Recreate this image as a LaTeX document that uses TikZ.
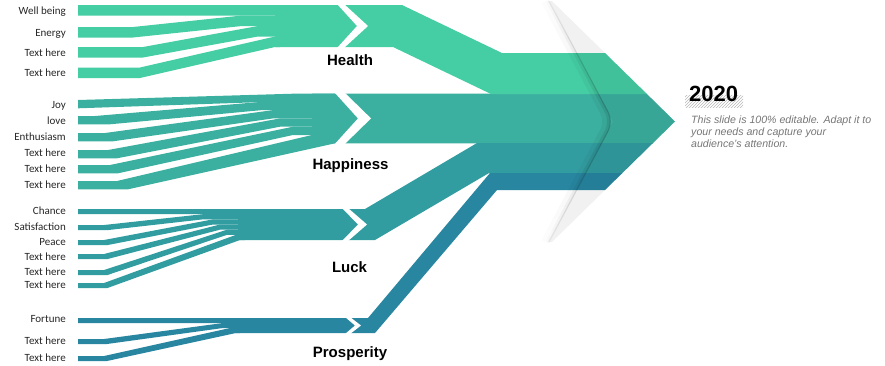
\documentclass[tikz,border=0pt]{standalone}
\usepackage{fontspec}
\setmainfont{Liberation Sans}
\newfontfamily\labelfont{Carlito}
\usetikzlibrary{patterns,fadings}
\definecolor{health}{RGB}{69,205,163}
\definecolor{happy}{RGB}{60,176,160}
\definecolor{luck}{RGB}{50,157,160}
\definecolor{prosp}{RGB}{40,134,160}
\definecolor{labelgray}{RGB}{38,38,38}
\definecolor{descgray}{RGB}{118,118,118}
\tikzfading[name=midfade, top color=transparent!85, bottom color=transparent!85, middle color=transparent!0]
% #1 colour, #2 left top y, #3 height, #4 top slant start x, #5 top slant end x,
% #6 slot top y, #7 bottom slant start x, #8 bottom slant end x, #9 right x
\newcommand\flowstrip[9]{\fill[#1] (78,#2) -- (#4,#2) -- (#5,#6) -- (#9,#6) -- (#9,#6+#3) -- (#8,#6+#3) -- (#7,#2+#3) -- (78,#2+#3) -- cycle;}
\begin{document}
\begin{tikzpicture}[x=1pt,y=-1pt,
  lbl/.style={font=\labelfont\fontsize{11}{13}\selectfont, text=labelgray, anchor=base east, inner sep=0pt},
  grouplbl/.style={font=\bfseries\fontsize{15}{18}\selectfont, text=black, anchor=base, inner sep=0pt},
  desc/.style={font=\itshape\fontsize{10.6}{12.3}\selectfont, text=descgray, anchor=base west, inner sep=0pt},
  notch/.style={fill=white},
  shadowline/.style={black, rounded corners=10, path fading=midfade, fit fading=true}]
\useasboundingbox (0,0) rectangle (885,365);

% ---------- Happiness ----------
\fill[happy] (312,93.5) -- (646.4,93.5) -- (675,121.5) -- (652.7,143.3) -- (312,143.3) -- cycle;
\flowstrip{happy}{100}{8.3}{78}{300}{93.5}{78}{270}{340}
\flowstrip{happy}{116}{8.3}{95}{262}{101.8}{110}{262}{340}
\flowstrip{happy}{133}{8.3}{105}{273}{110.1}{113}{273}{340}
\flowstrip{happy}{150}{8.3}{108}{280}{118.4}{117}{280}{340}
\flowstrip{happy}{165}{8.3}{110}{293}{126.7}{118}{293}{340}
\flowstrip{happy}{181}{8.3}{117}{312}{135.0}{128}{335}{340}

% ---------- Health ----------
\fill[health] (275,5) -- (402,5) -- (502,53) -- (605,53) -- (646.9,94) -- (491,94) -- (393,47) -- (275,47) -- cycle;
\flowstrip{health}{5}{10.5}{100}{100}{5}{100}{100}{280}
\flowstrip{health}{27}{10.5}{133}{242}{15.5}{133}{242}{280}
\flowstrip{health}{47}{10.5}{143}{258}{26}{143}{258}{280}
\flowstrip{health}{67.5}{10.5}{140}{275}{36.5}{140}{275}{280}

% ---------- Luck ----------
\fill[luck] (238,209) -- (365,209) -- (477,143) -- (653.0,143) -- (622.1,173.3) -- (488.5,173.3) -- (375,240) -- (238,240) -- cycle;
\flowstrip{luck}{209}{5.17}{100}{100}{209}{100}{100}{245}
\flowstrip{luck}{225}{5.17}{104}{203}{214.17}{107}{203}{245}
\flowstrip{luck}{240}{5.17}{104}{213}{219.33}{107}{213}{245}
\flowstrip{luck}{254}{5.17}{104}{220}{224.5}{107}{220}{245}
\flowstrip{luck}{270}{5.17}{104}{227}{229.67}{107}{227}{245}
\flowstrip{luck}{283}{5.17}{104}{236}{234.83}{107}{240}{245}

% ---------- Prosperity ----------
\fill[prosp] (235,318) -- (368,318) -- (490,173) -- (622.4,173) -- (605,190) -- (497,190) -- (375,333) -- (235,333) -- cycle;
\flowstrip{prosp}{318}{5}{100}{100}{318}{100}{100}{240}
\flowstrip{prosp}{339}{5}{104}{223}{323}{107}{223}{240}
\flowstrip{prosp}{356}{5}{104}{230}{328}{107}{236}{240}

% ---------- white chevron cuts ----------
\fill[notch] (337,4) -- (344,4) -- (368,26) -- (344,48) -- (337,48) -- (357,26) -- cycle;
\fill[notch] (335,93) -- (345,93) -- (371,118.4) -- (345,143.8) -- (335,143.8) -- (358,118.4) -- cycle;
\fill[notch] (342,208) -- (348,208) -- (367,224.5) -- (348,241) -- (342,241) -- (358,224.5) -- cycle;
\fill[notch] (345,317) -- (350,317) -- (361,325.5) -- (350,334) -- (345,334) -- (355,325.5) -- cycle;

% ---------- translucent overlay chevron ----------
\fill[black, opacity=0.055] (548,1) -- (613,121.5) -- (548,242) -- (551.9,242) -- (675,121.5) -- (551.9,1) -- cycle;
\draw[shadowline, opacity=0.05, line width=8] (545,1) -- (609,121.5) -- (545,242);
\draw[shadowline, opacity=0.09, line width=3.5] (547.5,1) -- (611.5,121.5) -- (547.5,242);
\draw[shadowline, opacity=0.12, line width=1.3] (549,1) -- (613,121.5) -- (549,242);

% ---------- group labels ----------
\node[grouplbl] (health) at (350,65) {Health};
\node[grouplbl] (happiness) at (350.5,169) {Happiness};
\node[grouplbl] (luck) at (349.5,272.5) {Luck};
\node[grouplbl] (prosperity) at (350,357.5) {Prosperity};

% ---------- left labels ----------
\node[lbl] (l1) at (66,14.7) {Well being};
\node[lbl] (l2) at (66,36.7) {Energy};
\node[lbl] (l3) at (66,56) {Text here};
\node[lbl] (l4) at (66,76) {Text here};
\node[lbl] (l5) at (66,108.3) {Joy};
\node[lbl] (l6) at (66,124) {love};
\node[lbl] (l7) at (66,140.7) {Enthusiasm};
\node[lbl] (l8) at (66,156.5) {Text here};
\node[lbl] (l9) at (66,172) {Text here};
\node[lbl] (l10) at (66,188) {Text here};
\node[lbl] (l11) at (66,214) {Chance};
\node[lbl] (l12) at (66,230) {Satisfaction};
\node[lbl] (l13) at (66,245.7) {Peace};
\node[lbl] (l14) at (66,260) {Text here};
\node[lbl] (l15) at (66,275) {Text here};
\node[lbl] (l16) at (66,288.3) {Text here};
\node[lbl] (l17) at (66,322.7) {Fortune};
\node[lbl] (l18) at (66,344.3) {Text here};
\node[lbl] (l19) at (66,361) {Text here};

% ---------- right text ----------
\fill[pattern=north east lines, pattern color=gray!55] (685,95) rectangle (743,107);
\node[font=\bfseries\fontsize{22}{26}\selectfont, anchor=base west, inner sep=0pt] (year) at (689,101.5) {2020};
\node[desc] (d1) at (691,123) {This slide is 100\% editable. Adapt it to};
\node[desc] (d2) at (691,135.3) {your needs and capture your};
\node[desc] (d3) at (691,147.6) {audience's attention.};
\end{tikzpicture}
\end{document}
